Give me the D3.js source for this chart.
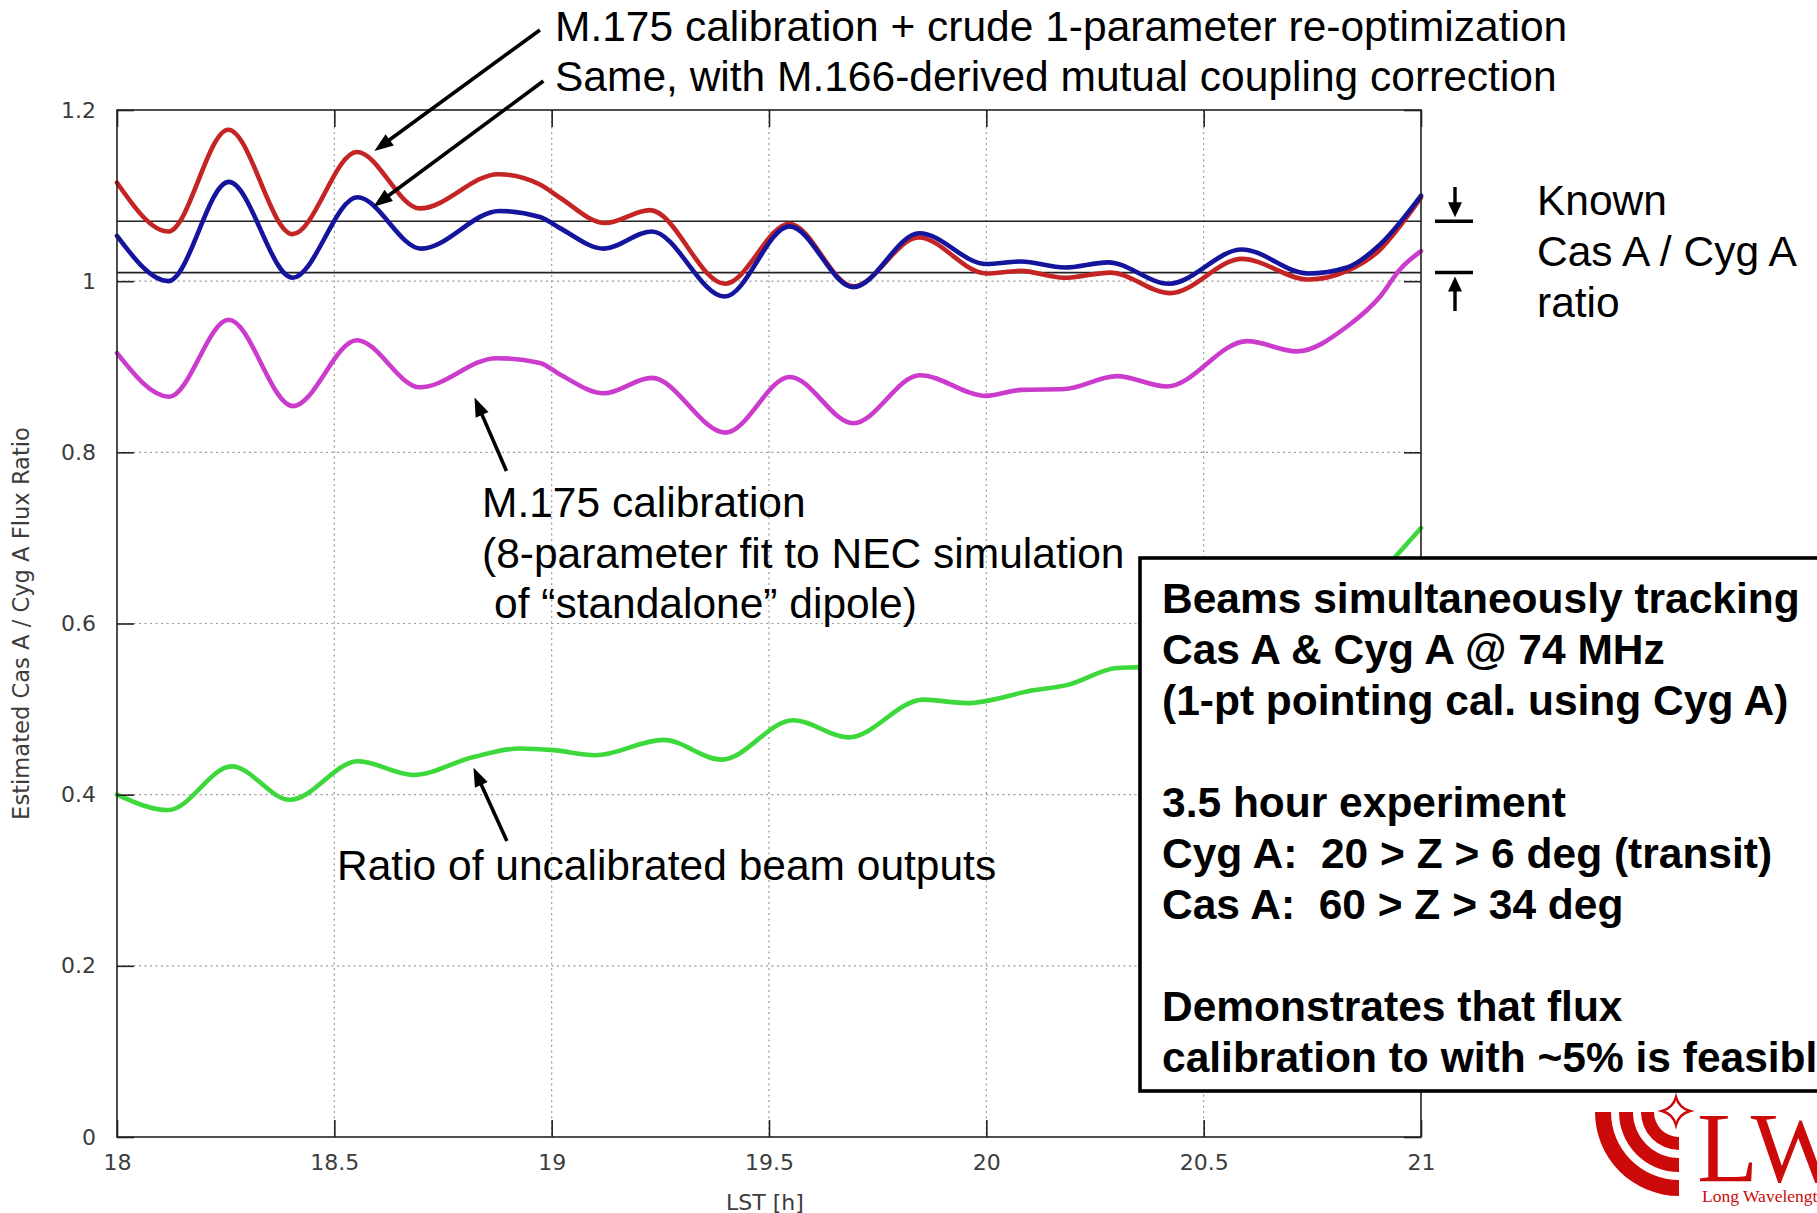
<!DOCTYPE html>
<html>
<head>
<meta charset="utf-8">
<script src="https://cdn.jsdelivr.net/npm/d3@7"></script>
<style>
  body { margin: 0; background: #fff; }
  svg { display: block; }
</style>
</head>
<body>
<script>
// ---- Data: estimated Cas A / Cyg A flux ratio vs LST [h] ----
// M.175 calibration + crude 1-parameter re-optimization
const reoptLst   = [18.00, 18.118, 18.256, 18.404, 18.552, 18.697, 18.877, 18.973, 19.019, 19.123, 19.226, 19.399, 19.547, 19.694, 19.844, 20.00, 20.078, 20.178, 20.285, 20.423, 20.588, 20.741, 20.83, 20.906, 20.945, 21.00];
const reoptRatio = [1.115, 1.058, 1.177, 1.055, 1.151, 1.085, 1.125, 1.113, 1.0975, 1.068, 1.083, 0.997, 1.067, 0.994, 1.051, 1.009, 1.012, 1.004, 1.010, 0.986, 1.026, 1.002, 1.012, 1.037, 1.060, 1.0975];

// Same, with M.166-derived mutual coupling correction
const couplingLst   = [18.00, 18.118, 18.257, 18.404, 18.553, 18.70, 18.88, 18.973, 19.019, 19.12, 19.23, 19.398, 19.547, 19.694, 19.846, 20.00, 20.08, 20.18, 20.28, 20.42, 20.588, 20.74, 20.83, 20.906, 21.00];
const couplingRatio = [1.053, 1.000, 1.116, 1.004, 1.098, 1.038, 1.082, 1.075, 1.062, 1.038, 1.058, 0.982, 1.064, 0.993, 1.056, 1.020, 1.023, 1.016, 1.022, 0.997, 1.037, 1.009, 1.016, 1.043, 1.100];

// M.175 calibration (8-parameter fit to NEC simulation of standalone dipole)
const m175Lst   = [18.00, 18.12, 18.257, 18.405, 18.552, 18.697, 18.873, 18.973, 19.019, 19.12, 19.23, 19.40, 19.548, 19.694, 19.847, 20.00, 20.08, 20.18, 20.30, 20.415, 20.60, 20.714, 20.83, 20.906, 20.952, 21.00];
const m175Ratio = [0.916, 0.865, 0.955, 0.854, 0.931, 0.876, 0.910, 0.9045, 0.891, 0.869, 0.887, 0.823, 0.888, 0.834, 0.890, 0.866, 0.873, 0.874, 0.889, 0.877, 0.930, 0.918, 0.947, 0.982, 1.014, 1.035];

// Ratio of uncalibrated beam outputs
const rawLst   = [18.00, 18.118, 18.264, 18.398, 18.555, 18.682, 18.82, 18.927, 19.004, 19.10, 19.257, 19.391, 19.556, 19.683, 19.855, 19.955, 20.108, 20.185, 20.30, 20.35, 20.50, 20.65, 20.80, 20.93, 21.00];
const rawRatio = [0.400, 0.382, 0.433, 0.394, 0.439, 0.423, 0.444, 0.454, 0.452, 0.446, 0.464, 0.441, 0.487, 0.467, 0.511, 0.507, 0.522, 0.528, 0.548, 0.549, 0.556, 0.575, 0.610, 0.672, 0.7115];

// Known Cas A / Cyg A ratio band
const knownBand = [1.01, 1.07];

// Tick labels
const xTicks = [18, 18.5, 19, 19.5, 20, 20.5, 21];
const yTicks = [0, 0.2, 0.4, 0.6, 0.8, 1, 1.2];

const seriesColors = { reopt: "#c42424", coupling: "#14149c", m175: "#cc3ccc", raw: "#3cd83c" };

// ---- Layout ----
const W = 1817, H = 1213;
const plot = { left: 117, right: 1421, top: 110, bottom: 1137 };
const sans = "'Liberation Sans', Arial, sans-serif";
const tickFont = "'DejaVu Sans', sans-serif";

const x = d3.scaleLinear().domain([18, 21]).range([plot.left, plot.right]);
const y = d3.scaleLinear().domain([0, 1.2]).range([plot.bottom, plot.top]);

const svg = d3.select("body").append("svg")
  .attr("width", W).attr("height", H)
  .attr("viewBox", `0 0 ${W} ${H}`);

svg.append("rect").attr("width", W).attr("height", H).attr("fill", "#fff");

// Dotted grid
const grid = svg.append("g").attr("stroke", "#9a9a9a").attr("stroke-width", 1.2).attr("stroke-dasharray", "2,3.5");
grid.selectAll("line.gx").data(xTicks.filter(d => d > 18 && d < 21)).join("line")
  .attr("x1", d => x(d)).attr("x2", d => x(d)).attr("y1", plot.top).attr("y2", plot.bottom);
grid.selectAll("line.gy").data(yTicks.filter(d => d > 0 && d < 1.2)).join("line")
  .attr("x1", plot.left).attr("x2", plot.right).attr("y1", d => y(d)).attr("y2", d => y(d));

// Known ratio band lines
svg.append("g").selectAll("line").data(knownBand).join("line")
  .attr("x1", plot.left).attr("x2", plot.right)
  .attr("y1", d => y(d)).attr("y2", d => y(d))
  .attr("stroke", "#222").attr("stroke-width", 1.6);

// Curves
const line = d3.line().x(d => x(d[0])).y(d => y(d[1])).curve(d3.curveMonotoneX);
const series = [
  { lst: rawLst, ratio: rawRatio, color: seriesColors.raw },
  { lst: m175Lst, ratio: m175Ratio, color: seriesColors.m175 },
  { lst: reoptLst, ratio: reoptRatio, color: seriesColors.reopt },
  { lst: couplingLst, ratio: couplingRatio, color: seriesColors.coupling }
];
svg.append("g").selectAll("path").data(series).join("path")
  .attr("d", s => line(d3.zip(s.lst, s.ratio)))
  .attr("fill", "none")
  .attr("stroke", s => s.color)
  .attr("stroke-width", 4.6)
  .attr("stroke-linejoin", "round")
  .attr("stroke-linecap", "round");

// Axes with inward ticks
function styleAxis(g) {
  g.select(".domain").remove();
  g.selectAll(".tick line").attr("stroke", "#222").attr("stroke-width", 1.6);
  g.selectAll(".tick text").attr("fill", "#3c3c3c").attr("font-family", tickFont).attr("font-size", 22);
}
svg.append("g").attr("transform", `translate(0,${plot.bottom})`)
  .call(d3.axisBottom(x).tickValues(xTicks).tickFormat(d => String(d)).tickSize(-17).tickPadding(17))
  .call(styleAxis);
svg.append("g").attr("transform", `translate(0,${plot.top})`)
  .call(d3.axisTop(x).tickValues(xTicks).tickFormat("").tickSize(-17))
  .call(styleAxis);
svg.append("g").attr("transform", `translate(${plot.left},0)`)
  .call(d3.axisLeft(y).tickValues(yTicks).tickFormat(d => String(d)).tickSize(-17).tickPadding(21))
  .call(styleAxis);
svg.append("g").attr("transform", `translate(${plot.right},0)`)
  .call(d3.axisRight(y).tickValues(yTicks).tickFormat("").tickSize(-17))
  .call(styleAxis);

// Frame
svg.append("rect")
  .attr("x", plot.left).attr("y", plot.top)
  .attr("width", plot.right - plot.left).attr("height", plot.bottom - plot.top)
  .attr("fill", "none").attr("stroke", "#222").attr("stroke-width", 1.6);

// Axis titles
svg.append("text").attr("x", 765).attr("y", 1202)
  .attr("text-anchor", "middle").attr("dominant-baseline", "central")
  .attr("font-family", tickFont).attr("font-size", 22).attr("fill", "#3c3c3c")
  .text("LST [h]");
svg.append("text")
  .attr("transform", `translate(21,${(plot.top + plot.bottom) / 2}) rotate(-90)`)
  .attr("text-anchor", "middle").attr("dominant-baseline", "central")
  .attr("font-family", tickFont).attr("font-size", 22.6).attr("fill", "#3c3c3c")
  .text("Estimated Cas A / Cyg A Flux Ratio");

// Arrow helper
function arrow(g, x1, y1, x2, y2, head = 19, half = 7, w = 3.6) {
  const a = Math.atan2(y2 - y1, x2 - x1);
  const c = Math.cos(a), s = Math.sin(a);
  const bx = x2 - head * c, by = y2 - head * s;
  g.append("line").attr("x1", x1).attr("y1", y1)
    .attr("x2", bx + 3 * c).attr("y2", by + 3 * s)
    .attr("stroke", "#000").attr("stroke-width", w);
  g.append("path")
    .attr("d", `M${x2},${y2}L${bx - half * s},${by + half * c}L${bx + half * s},${by - half * c}Z`)
    .attr("fill", "#000");
}

// Annotation arrows, anchored in data units [LST, ratio]
const pointers = [
  { from: [18.973, 1.2935], to: [18.592, 1.1521] },
  { from: [18.981, 1.2339], to: [18.590, 1.0870] },
  { from: [18.896, 0.7782], to: [18.8225, 0.8641] },
  { from: [18.897, 0.3459], to: [18.820, 0.4317] }
];
const ann = svg.append("g");
pointers.forEach(p => arrow(ann, x(p.from[0]), y(p.from[1]), x(p.to[0]), y(p.to[1])));

// Annotation texts
function textBlock(lines, x0, y0, dy, opts = {}) {
  const t = svg.append("text")
    .attr("font-family", sans).attr("font-size", opts.size || 42.5)
    .attr("font-weight", opts.weight || "normal").attr("fill", "#000")
    .attr("xml:space", "preserve");
  lines.forEach((l, i) => {
    t.append("tspan").attr("x", x0).attr("y", y0 + i * dy).text(l);
  });
  return t;
}
textBlock(["M.175 calibration + crude 1-parameter re-optimization",
           "Same, with M.166-derived mutual coupling correction"], 555, 40.5, 50.5);
textBlock(["M.175 calibration",
           "(8-parameter fit to NEC simulation"], 482, 517, 50.5);
textBlock(["of \u201cstandalone\u201d dipole)"], 494, 618, 50.5);
textBlock(["Ratio of uncalibrated beam outputs"], 337, 879.5, 50.5);
textBlock(["Known", "Cas A / Cyg A", "ratio"], 1537, 214.5, 51);

// Known-ratio markers beside the frame
const km = svg.append("g");
knownBand.forEach(v => {
  km.append("line").attr("x1", 1435).attr("x2", 1473).attr("y1", y(v)).attr("y2", y(v))
    .attr("stroke", "#000").attr("stroke-width", 3.5);
});
arrow(km, 1455, 187, 1455, y(knownBand[1]) - 4, 15, 7, 3.4);
arrow(km, 1455, 311, 1455, y(knownBand[0]) + 4, 15, 7, 3.4);

// Summary box
svg.append("rect").attr("x", 1140).attr("y", 558).attr("width", 720).attr("height", 533)
  .attr("fill", "#fff").attr("stroke", "#000").attr("stroke-width", 3.6);
textBlock([
  "Beams simultaneously tracking",
  "Cas A & Cyg A @ 74 MHz",
  "(1-pt pointing cal. using Cyg A)",
  "",
  "3.5 hour experiment",
  "Cyg A:  20 > Z > 6 deg (transit)",
  "Cas A:  60 > Z > 34 deg",
  "",
  "Demonstrates that flux",
  "calibration to with ~5% is feasible"
], 1162, 613, 51, { weight: "bold" });

// LWA logo
const logoRed = "#cc0a0a";
const logo = svg.append("g");
const lc = [1679, 1112];
const arcGen = d3.arc();
[[68, 84], [46, 60], [25, 38]].forEach(([r0, r1]) => {
  logo.append("path")
    .attr("transform", `translate(${lc[0]},${lc[1]})`)
    .attr("d", arcGen({ innerRadius: r0, outerRadius: r1, startAngle: Math.PI, endAngle: 1.5 * Math.PI }))
    .attr("fill", logoRed);
});
{
  const [cx, cy] = [1676, 1111], r = 14, k = 3;
  logo.append("path")
    .attr("d", `M${cx},${cy - r}Q${cx + k},${cy - k} ${cx + r},${cy}Q${cx + k},${cy + k} ${cx},${cy + r}Q${cx - k},${cy + k} ${cx - r},${cy}Q${cx - k},${cy - k} ${cx},${cy - r}Z`)
    .attr("fill", "#fff").attr("stroke", logoRed).attr("stroke-width", 2.5);
}
logo.append("text").attr("x", 1697).attr("y", 1181)
  .attr("font-family", "'Liberation Serif', 'Times New Roman', serif").attr("font-size", 100)
  .attr("fill", logoRed).text("LWA");
logo.append("text").attr("x", 1702).attr("y", 1202)
  .attr("font-family", "'Liberation Serif', 'Times New Roman', serif").attr("font-size", 17.5)
  .attr("fill", logoRed).text("Long Wavelength Array");
</script>
</body>
</html>
